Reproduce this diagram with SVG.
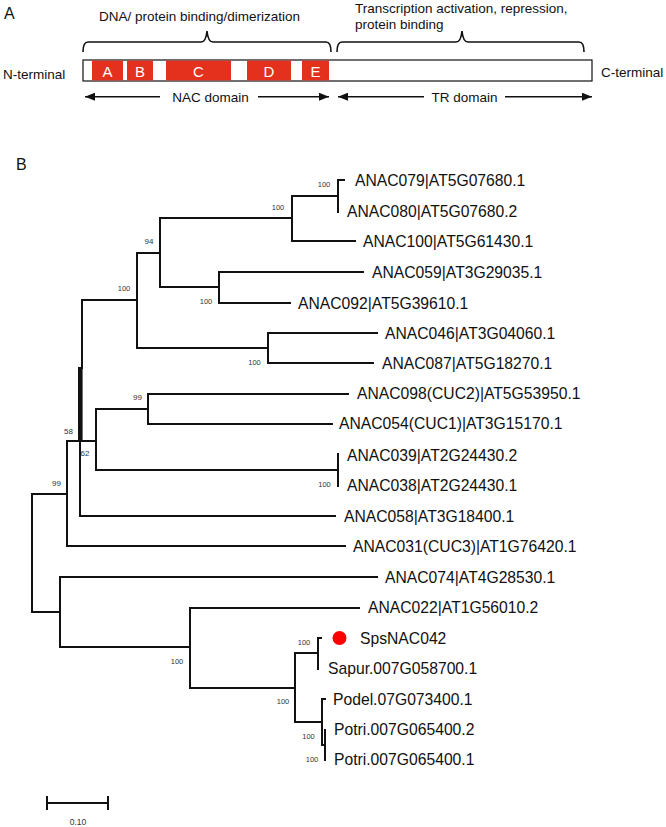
<svg xmlns="http://www.w3.org/2000/svg" width="666" height="827" viewBox="0 0 666 827">
<style>
text{font-family:"Liberation Sans",Arial,sans-serif;fill:#111}
.pa{font-size:13.5px}
.pl{font-size:16px}
.box{fill:#e3311e}
.bl{font-size:15px;fill:#fff;text-anchor:middle}
.ln{stroke:#111;stroke-width:2;fill:none;stroke-linecap:square}
.br{stroke:#111;stroke-width:1.6;fill:none}
.lab{font-size:15.7px}
.bs{font-size:7.5px;fill:#333;text-anchor:middle}
</style>
<defs>
<marker id="ah" viewBox="0 0 10 8" refX="10" refY="4" markerWidth="10" markerHeight="8" markerUnits="userSpaceOnUse" orient="auto-start-reverse">
<path d="M0,0 L10,4 L0,8 Z" fill="#111"/>
</marker>
</defs>
<rect width="666" height="827" fill="#fff"/>

<g id="panelA">
<text class="pl" x="4" y="18.5">A</text>
<text class="pa" x="199.5" y="20.7" text-anchor="middle">DNA/ protein binding/dimerization</text>
<text class="pa" x="355" y="12.5">Transcription activation, repression,</text>
<text class="pa" x="355" y="29">protein binding</text>
<path class="br" d="M83,52 Q83,42 88,42 L201,42 Q206,42 207,31 Q208,42 213,42 L326,42 Q331,42 331,52"/>
<path class="br" d="M337,52 Q337,42 342,42 L456,42 Q461,42 462,31 Q463,42 468,42 L579,42 Q584,42 584,52"/>
<g id="protein-bar">
<rect x="83" y="60" width="509" height="21" fill="#fff" stroke="#111" stroke-width="1.2"/>
<rect class="box" x="92" y="60.6" width="31" height="19.8"/>
<rect class="box" x="127" y="60.6" width="26" height="19.8"/>
<rect class="box" x="166" y="60.6" width="65" height="19.8"/>
<rect class="box" x="247" y="60.6" width="44" height="19.8"/>
<rect class="box" x="302" y="60.6" width="27" height="19.8"/>
<text class="bl" x="107.5" y="76.5">A</text>
<text class="bl" x="140" y="76.5">B</text>
<text class="bl" x="198.5" y="76.5">C</text>
<text class="bl" x="269" y="76.5">D</text>
<text class="bl" x="315.5" y="76.5">E</text>
</g>
<text class="pa" x="3" y="78.5">N-terminal</text>
<text class="pa" x="601" y="77">C-terminal</text>
<g id="domain-arrows">
<line x1="160" y1="96.7" x2="85" y2="96.7" stroke="#111" stroke-width="1.6" marker-end="url(#ah)"/>
<line x1="258" y1="96.7" x2="329" y2="96.7" stroke="#111" stroke-width="1.6" marker-end="url(#ah)"/>
<line x1="424" y1="96.7" x2="338" y2="96.7" stroke="#111" stroke-width="1.6" marker-end="url(#ah)"/>
<line x1="505" y1="96.7" x2="592" y2="96.7" stroke="#111" stroke-width="1.6" marker-end="url(#ah)"/>
</g>
<text class="pa" x="210.5" y="101.5" text-anchor="middle">NAC domain</text>
<text class="pa" x="464.5" y="101.5" text-anchor="middle">TR domain</text>
</g>

<text class="pl" x="16" y="170">B</text>

<g id="connectors">
<path class="ln" d="M338,180 V212 M338,180 H344 M292,196 H338 M292,196 V241 H355 M160,218 H292 M160,218 V287 M160,287 H219 M219,272 V303 M219,272 H363 M219,303 H290 M137,253 H160 M137,253 V348 H268 M268,333 V363 M268,333 H377 M268,363 H373 M82,300 H137 M82,300 V368"/>
<rect x="78" y="367" width="4.6" height="75" fill="#111"/>
<path class="ln" d="M80,441 V516 H335 M67,441 H96 M96,409 V470 M96,409 H148 M148,394 V424 M148,394 H348 M148,424 H332 M96,470 H338 M338,454 V486 M67,441 V546 H345 M32,494 H67 M32,494 V612 H60 M60,577 V647 M60,577 H377 M60,647 H190 M190,608 V688 M190,608 H359 M190,688 H295 M295,653 V722 M295,653 H318 M318,638 V669 M318,638 H321 M295,722 H322 M322,699 V745 M322,699 H325 M322,745 H325 M325,730 V760"/>
</g>

<g id="bootstrap">
<text class="bs" x="324" y="186.7">100</text>
<text class="bs" x="278" y="209.7">100</text>
<text class="bs" x="149" y="243.7" style="font-size:8px">94</text>
<text class="bs" x="124" y="290.7">100</text>
<text class="bs" x="206" y="303.7">100</text>
<text class="bs" x="254.5" y="364.7">100</text>
<text class="bs" x="137.5" y="399.7" style="font-size:8px">99</text>
<text class="bs" x="68.5" y="433.7" style="font-size:8px">58</text>
<text class="bs" x="85" y="455.7" style="font-size:8px">62</text>
<text class="bs" x="56.5" y="485.7" style="font-size:8px">99</text>
<text class="bs" x="324.5" y="486.7">100</text>
<text class="bs" x="177" y="663.7">100</text>
<text class="bs" x="304" y="644.7">100</text>
<text class="bs" x="283" y="703.7">100</text>
<text class="bs" x="308.5" y="738.7">100</text>
<text class="bs" x="312" y="761.7">100</text>
</g>

<g id="leaves">
<g id="n-ANAC079"><text class="lab" x="355" y="185.6">ANAC079|AT5G07680.1</text></g>
<g id="n-ANAC080"><text class="lab" x="347" y="216.6">ANAC080|AT5G07680.2</text></g>
<g id="n-ANAC100"><text class="lab" x="363" y="246.6">ANAC100|AT5G61430.1</text></g>
<g id="n-ANAC059"><text class="lab" x="372" y="277.6">ANAC059|AT3G29035.1</text></g>
<g id="n-ANAC092"><text class="lab" x="298" y="308.6">ANAC092|AT5G39610.1</text></g>
<g id="n-ANAC046"><text class="lab" x="385" y="338.6">ANAC046|AT3G04060.1</text></g>
<g id="n-ANAC087"><text class="lab" x="382" y="368.6">ANAC087|AT5G18270.1</text></g>
<g id="n-ANAC098"><text class="lab" x="357" y="398.6">ANAC098(CUC2)|AT5G53950.1</text></g>
<g id="n-ANAC054"><text class="lab" x="339" y="428.6">ANAC054(CUC1)|AT3G15170.1</text></g>
<g id="n-ANAC039"><text class="lab" x="347" y="460.6">ANAC039|AT2G24430.2</text></g>
<g id="n-ANAC038"><text class="lab" x="347" y="490.6">ANAC038|AT2G24430.1</text></g>
<g id="n-ANAC058"><text class="lab" x="344" y="521.6">ANAC058|AT3G18400.1</text></g>
<g id="n-ANAC031"><text class="lab" x="353" y="551.6">ANAC031(CUC3)|AT1G76420.1</text></g>
<g id="n-ANAC074"><text class="lab" x="385" y="582.6">ANAC074|AT4G28530.1</text></g>
<g id="n-ANAC022"><text class="lab" x="368" y="612.6">ANAC022|AT1G56010.2</text></g>
<g id="n-SpsNAC042"><circle cx="339.5" cy="638" r="7" fill="#ff0000"/><text class="lab" x="360" y="643.6">SpsNAC042</text></g>
<g id="n-Sapur"><text class="lab" x="328" y="673.6">Sapur.007G058700.1</text></g>
<g id="n-Podel"><text class="lab" x="333" y="704.6">Podel.07G073400.1</text></g>
<g id="n-Potri2"><text class="lab" x="334" y="734.6">Potri.007G065400.2</text></g>
<g id="n-Potri1"><text class="lab" x="334" y="764.6">Potri.007G065400.1</text></g>
</g>

<g id="scale-bar">
<path class="ln" d="M47,803 H108 M47,797 V809 M108,797 V809"/>
<text x="78" y="825" text-anchor="middle" style="font-size:8.5px;fill:#333">0.10</text>
</g>
</svg>
